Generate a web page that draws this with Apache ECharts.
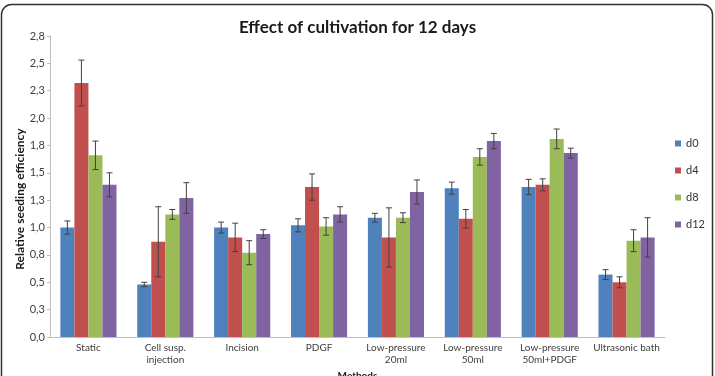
<!DOCTYPE html>
<html>
<head>
<meta charset="utf-8">
<script src="https://cdn.jsdelivr.net/npm/echarts@6/dist/echarts.min.js"></script>
<style>
  html, body { margin: 0; padding: 0; background: #fff; }
  #chart { width: 715px; height: 376px; }
</style>
</head>
<body>
<div id="chart"></div>
<script>
// categories (methods)
const methods = ['Static', 'Cell susp.\ninjection', 'Incision', 'PDGF',
  'Low-pressure\n20ml', 'Low-pressure\n50ml', 'Low-pressure\n50ml+PDGF', 'Ultrasonic bath']

// mean relative seeding efficiency per day
const d0 = [1.00, 0.48, 1.00, 1.02, 1.09, 1.36, 1.37, 0.57]
const d4 = [2.32, 0.87, 0.91, 1.37, 0.91, 1.08, 1.39, 0.50]
const d8 = [1.66, 1.12, 0.77, 1.01, 1.09, 1.645, 1.81, 0.88]
const d12 = [1.39, 1.27, 0.94, 1.12, 1.325, 1.79, 1.68, 0.91]

// error bar half-lengths
const d0Err = [0.06, 0.02, 0.05, 0.06, 0.04, 0.055, 0.07, 0.045]
const d4Err = [0.21, 0.32, 0.13, 0.12, 0.27, 0.085, 0.055, 0.05]
const d8Err = [0.13, 0.045, 0.11, 0.08, 0.045, 0.075, 0.09, 0.10]
const d12Err = [0.11, 0.14, 0.04, 0.07, 0.11, 0.07, 0.045, 0.18]

const seriesNames = ['d0', 'd4', 'd8', 'd12']
const seriesColors = ['#4f81bd', '#c0504d', '#9bbb59', '#8064a2']
const values = [d0, d4, d8, d12]
const errors = [d0Err, d4Err, d8Err, d12Err]

const BAR_CATEGORY_GAP = 0.27
const FONT = 'Lato, "Open Sans", sans-serif'

// error bars drawn through the axes
const errorSeries = (idx) => ({
  type: 'custom',
  name: seriesNames[idx] + ' err',
  z: 5,
  silent: true,
  data: values[idx].map((v, i) => [i, v - errors[idx][i], v + errors[idx][i]]),
  renderItem: (params, api) => {
    const cat = api.value(0)
    const low = api.coord([cat, api.value(1)])
    const high = api.coord([cat, api.value(2)])
    const band = api.size([1, 0])[0]
    const barW = band * (1 - BAR_CATEGORY_GAP) / 4
    const x = low[0] + (idx - 1.5) * barW
    const cap = 3
    const style = { stroke: '#404040', lineWidth: 1 }
    return {
      type: 'group',
      children: [
        { type: 'line', shape: { x1: x, y1: low[1], x2: x, y2: high[1] }, style },
        { type: 'line', shape: { x1: x - cap, y1: high[1], x2: x + cap, y2: high[1] }, style },
        { type: 'line', shape: { x1: x - cap, y1: low[1], x2: x + cap, y2: low[1] }, style },
      ],
    }
  },
})

const barSeries = values.map((data, idx) => ({
  name: seriesNames[idx],
  type: 'bar',
  data,
  barGap: '0%',
  barCategoryGap: (BAR_CATEGORY_GAP * 100) + '%',
  itemStyle: { color: seriesColors[idx] },
}))

const chart = echarts.init(document.getElementById('chart'))
chart.setOption({
  animation: false,
  textStyle: { fontFamily: FONT },
  title: {
    text: 'Effect of cultivation for 12 days',
    left: 'center',
    top: 14,
    textStyle: { fontFamily: FONT, fontSize: 17, fontWeight: 'bold', color: '#1a1a1a' },
  },
  legend: {
    orient: 'vertical',
    left: 670,
    top: 133,
    itemWidth: 6,
    itemHeight: 6,
    itemGap: 16,
    icon: 'rect',
    data: seriesNames,
    textStyle: { fontFamily: FONT, fontSize: 11, color: '#333' },
  },
  grid: { left: 50, right: 50, top: 36, bottom: 39, outerBoundsMode: 'none' },
  xAxis: {
    type: 'category',
    data: methods,
    name: 'Methods',
    nameLocation: 'middle',
    nameGap: 33,
    nameTextStyle: { fontFamily: FONT, fontSize: 10, fontWeight: 'bold', color: '#1a1a1a' },
    axisLine: { lineStyle: { color: '#bfbfbf' } },
    axisTick: { show: false },
    axisLabel: { fontFamily: FONT, fontSize: 10, color: '#404040', lineHeight: 12, margin: 5, interval: 0 },
  },
  yAxis: {
    type: 'value',
    min: 0,
    max: 2.75,
    interval: 0.25,
    axisLine: { show: true, lineStyle: { color: '#bfbfbf' } },
    axisTick: { show: true, length: 3, lineStyle: { color: '#bfbfbf' } },
    splitLine: { show: false },
    axisLabel: {
      fontFamily: FONT,
      fontSize: 11,
      color: '#404040',
      margin: 5,
      formatter: (v) => (Math.round(Number(v.toFixed(2)) * 10) / 10).toFixed(1).replace('.', ','),
    },
  },
  graphic: [
    {
      type: 'rect',
      shape: { x: 1.5, y: 4.5, width: 711, height: 420, r: 10 },
      style: { fill: 'none', stroke: '#333', lineWidth: 1.5 },
      silent: true,
    },
    {
      type: 'text',
      x: 20,
      y: 199,
      rotation: Math.PI / 2,
      style: {
        text: 'Relative seeding efficiency',
        fontFamily: FONT,
        fontSize: 12,
        fontWeight: 'bold',
        fill: '#1a1a1a',
        align: 'center',
        verticalAlign: 'middle',
      },
    },
  ],
  series: [...barSeries, ...values.map((_, idx) => errorSeries(idx))],
})
</script>
</body>
</html>
